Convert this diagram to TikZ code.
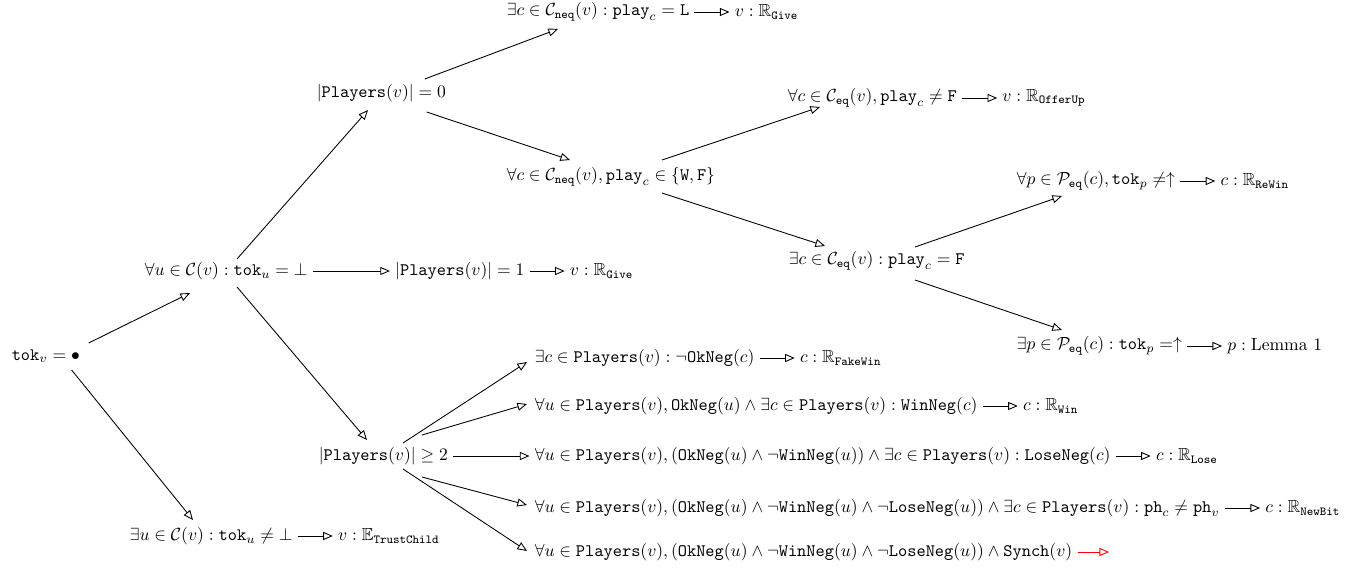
\documentclass[tikz,border=0pt]{standalone}
\usepackage{amsmath,amssymb}
\usetikzlibrary{arrows.meta,positioning}

\tikzset{every picture/.style={line width=0.5pt}}
\tikzset{
	cond/.style={anchor=west, inner sep=0.75pt},
	res/.style={inner sep=0.75pt, right=24pt of #1},
	imp/.style={-{Triangle[open,length=5.5pt,width=4.6pt]}},
	link/.style={imp, shorten <=2pt, shorten >=2pt}}

\begin{document}
\begin{tikzpicture}[x=0.57pt,y=0.57pt,yscale=-1,xscale=1]
	\useasboundingbox (0,0) rectangle (1367,570);
	
	% Text Node
	\node [cond] (root) at (10,356) {$\mathtt{tok}_v = \bullet$};
	% Text Node
	\node [cond] (allC) at (143,271) {$\forall u \in \mathcal{C}(v) : \mathtt{tok}_u = \bot$};
	% Text Node
	\node [cond] (exC) at (128,536) {$\exists u \in \mathcal{C}(v) : \mathtt{tok}_u \neq \bot$};
	\node [res=exC] (trust) {$v : \mathbb{E}_{\mathtt{TrustChild}}$};
	% Text Node
	\node [cond] (pl0) at (315,93) {$|\mathtt{Players}(v)| = 0$};
	% Text Node
	\node [cond, right=48pt of allC] (pl1) {$|\mathtt{Players}(v)| = 1$};
	\node [res=pl1] (give1) {$v : \mathbb{R}_{\mathtt{Give}}$};
	% Text Node
	\node [cond] (pl2) at (317,456) {$|\mathtt{Players}(v)| \geq 2$};
	
	% Text Node
	\node [cond] (exL) at (505,12) {$\exists c \in \mathcal{C}_{\mathtt{neq}}(v) : \mathtt{play}_c = \mathtt{L}$};
	\node [res=exL] (give0) {$v : \mathbb{R}_{\mathtt{Give}}$};
	% Text Node
	\node [cond] (allWF) at (505,177) {$\forall c \in \mathcal{C}_{\mathtt{neq}}(v), \mathtt{play}_c \in \{\mathtt{W},\mathtt{F}\}$};
	% Text Node
	\node [cond] (allF) at (786,98) {$\forall c \in \mathcal{C}_{\mathtt{eq}}(v), \mathtt{play}_c \neq \mathtt{F}$};
	\node [res=allF] (offer) {$v : \mathbb{R}_{\mathtt{OfferUp}}$};
	% Text Node
	\node [cond] (exF) at (787,261) {$\exists c \in \mathcal{C}_{\mathtt{eq}}(v) : \mathtt{play}_c = \mathtt{F}$};
	% Text Node
	\node [cond] (allUp) at (1015,181) {$\forall p \in \mathcal{P}_{\mathtt{eq}}(c), \mathtt{tok}_p \neq\uparrow$};
	\node [res=allUp] (rewin) {$c : \mathbb{R}_{\mathtt{ReWin}}$};
	% Text Node
	\node [cond] (exUp) at (1015,346) {$\exists p \in \mathcal{P}_{\mathtt{eq}}(c) : \mathtt{tok}_p =\uparrow$};
	\node [res=exUp] (lemma) {$p : \text{Lemma 1}$};
	
	% Text Node
	\node [cond] (fake) at (533,358) {$\exists c \in \mathtt{Players}(v) : \neg\mathtt{OkNeg}(c)$};
	\node [res=fake] (fakewin) {$c : \mathbb{R}_{\mathtt{FakeWin}}$};
	% Text Node
	\node [cond] (win) at (533,406) {$\forall u \in \mathtt{Players}(v), \mathtt{OkNeg}(u) \wedge \exists c \in \mathtt{Players}(v) : \mathtt{WinNeg}(c)$};
	\node [res=win] (rwin) {$c : \mathbb{R}_{\mathtt{Win}}$};
	% Text Node
	\node [cond] (lose) at (533,456) {$\forall u \in \mathtt{Players}(v), (\mathtt{OkNeg}(u) \wedge \neg\mathtt{WinNeg}(u)) \wedge \exists c \in \mathtt{Players}(v) : \mathtt{LoseNeg}(c)$};
	\node [res=lose] (rlose) {$c : \mathbb{R}_{\mathtt{Lose}}$};
	% Text Node
	\node [cond] (newbit) at (533,508) {$\forall u \in \mathtt{Players}(v), (\mathtt{OkNeg}(u) \wedge \neg\mathtt{WinNeg}(u) \wedge \neg\mathtt{LoseNeg}(u)) \wedge \exists c \in \mathtt{Players}(v) : \mathtt{ph}_c \neq \mathtt{ph}_v$};
	\node [res=newbit] (rnewbit) {$c : \mathbb{R}_{\mathtt{NewBit}}$};
	% Text Node
	\node [cond] (synch) at (533,552) {$\forall u \in \mathtt{Players}(v), (\mathtt{OkNeg}(u) \wedge \neg\mathtt{WinNeg}(u) \wedge \neg\mathtt{LoseNeg}(u)) \wedge \mathtt{Synch}(v)$};
	\coordinate [right=20pt of synch] (synchEnd);
	
	%Straight Lines
	\draw [imp] ([shift={(7,-13)}]root.east) -- ([shift={(47,22)}]allC.west);
	\draw [imp] ([shift={(-10,14)}]root.east) -- ([shift={(65,-16)}]exC.west);
	\draw [imp] ([shift={(94,-12)}]allC.west) -- ([shift={(53,17)}]pl0.west);
	\draw [imp] ([shift={(94,16)}]allC.west) -- ([shift={(50,-16)}]pl2.west);
	\draw [link] (allC) -- (pl1);
	\draw [link] (pl1) -- (give1);
	\draw [link] (exC) -- (trust);
	%Straight Lines
	\draw [imp] ([shift={(-23,-14)}]pl0.east) -- ([shift={(53,17)}]exL.west);
	\draw [imp] ([shift={(-21,19)}]pl0.east) -- ([shift={(65,-17)}]allWF.west);
	\draw [link] (exL) -- (give0);
	\draw [imp] ([shift={(157,-17)}]allWF.west) -- ([shift={(34,9)}]allF.west);
	\draw [imp] ([shift={(157,16)}]allWF.west) -- ([shift={(38,-15)}]exF.west);
	\draw [link] (allF) -- (offer);
	\draw [imp] ([shift={(128,-14)}]exF.west) -- ([shift={(47,15)}]allUp.west);
	\draw [imp] ([shift={(128,19)}]exF.west) -- ([shift={(47,-16)}]exUp.west);
	\draw [link] (allUp) -- (rewin);
	\draw [link] (exUp) -- (lemma);
	%Straight Lines
	\draw [imp] ([shift={(86,-13)}]pl2.west) -- ([shift={(-6,4)}]fake.west);
	\draw [imp] ([shift={(105,-21)}]pl2.west) -- ([shift={(-6,-2)}]win.west);
	\draw [link] (pl2) -- (lose);
	\draw [imp] ([shift={(105,21)}]pl2.west) -- ([shift={(-6,-3)}]newbit.west);
	\draw [imp] ([shift={(86,13)}]pl2.west) -- ([shift={(-6,-1)}]synch.west);
	\draw [link] (fake) -- (fakewin);
	\draw [link] (win) -- (rwin);
	\draw [link] (lose) -- (rlose);
	\draw [link] (newbit) -- (rnewbit);
	\draw [link, red, shorten >=0pt] (synch) -- (synchEnd);
	
\end{tikzpicture}
\end{document}
